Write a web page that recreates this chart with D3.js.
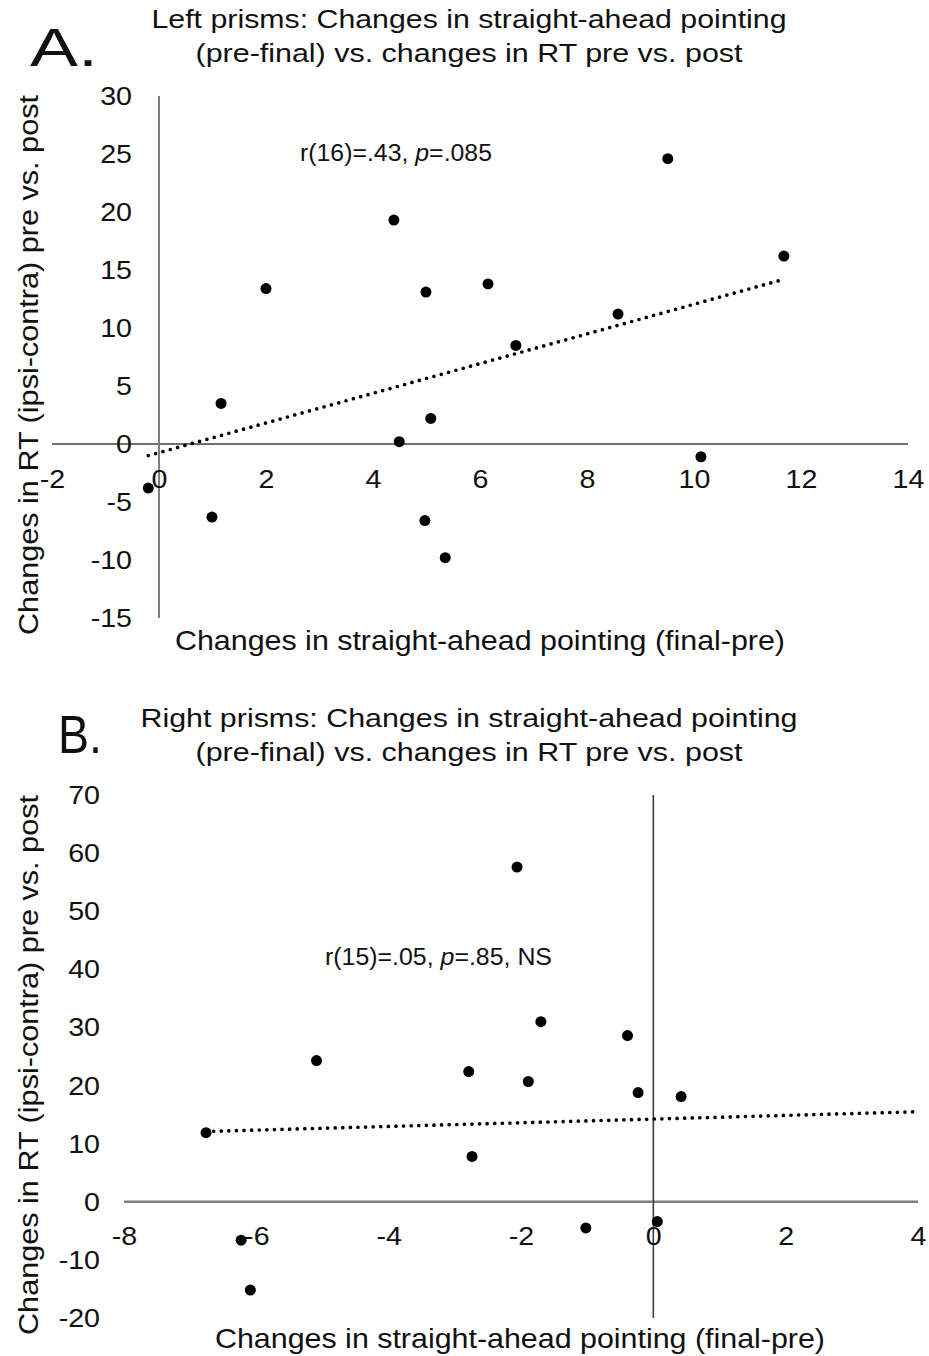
<!DOCTYPE html>
<html>
<head>
<meta charset="utf-8">
<script src="https://cdn.jsdelivr.net/npm/d3@7"></script>
<style>
body{margin:0;background:#fff;}
svg{font-family:"Liberation Sans",Arial,sans-serif;}
</style>
</head>
<body>
<svg id="chart"></svg>
<script>
// panel A: left prisms
var leftX = [-0.2, 0.99, 1.16, 2.0, 4.39, 4.49, 4.99, 4.97, 5.08, 5.35, 6.15, 6.67, 8.58, 9.51, 10.13, 11.68];
var leftY = [-3.8, -6.3, 3.5, 13.4, 19.3, 0.2, 13.1, -6.6, 2.2, -9.8, 13.8, 8.5, 11.2, 24.6, -1.1, 16.2];
var leftTrendX = [-0.2, 11.68];
var leftTrendY = [-1.0, 14.2];
var leftTicksX = [-2, 0, 2, 4, 6, 8, 10, 12, 14];
var leftTicksY = [-15, -10, -5, 0, 5, 10, 15, 20, 25, 30];

// panel B: right prisms
var rightX = [-6.76, -6.23, -6.09, -5.09, -2.79, -2.74, -2.06, -1.89, -1.70, -1.02, -0.39, -0.23, 0.06, 0.42];
var rightY = [11.9, -6.6, -15.2, 24.3, 22.4, 7.8, 57.6, 20.7, 31.0, -4.5, 28.6, 18.8, -3.4, 18.1];
var rightTrendX = [-6.76, 4];
var rightTrendY = [12.1, 15.5];
var rightTicksX = [-8, -6, -4, -2, 0, 2, 4];
var rightTicksY = [-20, -10, 0, 10, 20, 30, 40, 50, 60, 70];

var yTitle = "Changes in RT (ipsi-contra) pre vs. post";
var xTitle = "Changes in straight-ahead pointing (final-pre)";

var svg = d3.select("#chart")
    .attr("width", 929)
    .attr("height", 1356);

var zip = function(xs, ys)
{
    return xs.map(function(x, i){ return {x:x, y:ys[i]}; });
}

var drawPanel = function(p)
{
    var xScale = d3.scaleLinear().domain(p.xDomain).range(p.xRange);
    var yScale = d3.scaleLinear().domain(p.yDomain).range(p.yRange);
    var g = svg.append("g");

    // axis lines through zero
    g.append("line")
    .attr("x1", xScale(p.xDomain[0])).attr("x2", xScale(p.xDomain[1]))
    .attr("y1", yScale(0)).attr("y2", yScale(0))
    .attr("stroke", p.hColor).attr("stroke-width", p.hWidth);
    g.append("line")
    .attr("x1", xScale(0)).attr("x2", xScale(0))
    .attr("y1", yScale(p.yDomain[0])).attr("y2", yScale(p.yDomain[1]))
    .attr("stroke", p.vColor).attr("stroke-width", p.vWidth);

    var fmt = function(d){ return String(d); };

    var xAxis = g.append("g")
    .attr("transform", "translate(0," + p.xLabelTop + ")")
    .call(d3.axisBottom(xScale).tickValues(p.ticksX).tickSize(0).tickPadding(0).tickFormat(fmt));
    var yAxis = g.append("g")
    .attr("transform", "translate(" + p.yLabelRight + ",0)")
    .call(d3.axisLeft(yScale).tickValues(p.ticksY).tickSize(0).tickPadding(0).tickFormat(fmt));
    [xAxis, yAxis].forEach(function(a)
    {
        a.select(".domain").remove();
        a.selectAll("text")
        .attr("font-size", 26.5)
        .attr("font-family", "Liberation Sans, Arial, sans-serif")
        .attr("fill", "#111")
        .attr("transform", "scale(1.08,1)");
    });

    // trendline
    var line = d3.line()
    .x(function(d){ return xScale(d.x); })
    .y(function(d){ return yScale(d.y); });
    g.append("path")
    .datum(zip(p.trendX, p.trendY))
    .attr("d", line)
    .attr("fill", "none")
    .attr("stroke", "#000")
    .attr("stroke-width", 3.7)
    .attr("stroke-linecap", "round")
    .attr("stroke-dasharray", "0 7.6");

    g.selectAll("circle")
    .data(zip(p.xs, p.ys))
    .enter()
    .append("circle")
    .attr("cx", function(d){ return xScale(d.x); })
    .attr("cy", function(d){ return yScale(d.y); })
    .attr("r", 5.5)
    .attr("fill", "#000");

    // titles
    var title = g.append("text")
    .attr("text-anchor", "middle")
    .attr("font-size", 26)
    .attr("fill", "#111");
    title.append("tspan")
    .attr("x", 469).attr("y", p.titleY)
    .attr("textLength", p.titleLen[0]).attr("lengthAdjust", "spacingAndGlyphs")
    .text(p.title[0]);
    title.append("tspan")
    .attr("x", 469).attr("y", p.titleY + 34)
    .attr("textLength", p.titleLen[1]).attr("lengthAdjust", "spacingAndGlyphs")
    .text(p.title[1]);

    g.append("text")
    .attr("x", p.letterX).attr("y", p.letterY)
    .attr("font-size", 54)
    .attr("textLength", p.letterLen).attr("lengthAdjust", "spacingAndGlyphs")
    .attr("fill", "#111")
    .text(p.letter);

    g.append("text")
    .attr("x", p.xTitleX).attr("y", p.xTitleY)
    .attr("text-anchor", "middle")
    .attr("font-size", 27.5)
    .attr("textLength", 610).attr("lengthAdjust", "spacingAndGlyphs")
    .attr("fill", "#111")
    .text(xTitle);

    g.append("text")
    .attr("transform", "translate(38," + p.yTitleY + ") rotate(-90)")
    .attr("text-anchor", "middle")
    .attr("font-size", 27.5)
    .attr("textLength", 540).attr("lengthAdjust", "spacingAndGlyphs")
    .attr("fill", "#111")
    .text(yTitle);

    var note = g.append("text")
    .attr("x", p.noteX).attr("y", p.noteY)
    .attr("font-size", 23.5)
    .attr("textLength", p.noteLen).attr("lengthAdjust", "spacingAndGlyphs")
    .attr("fill", "#111");
    note.append("tspan").text(p.note[0]);
    note.append("tspan").attr("font-style", "italic").text("p");
    note.append("tspan").text(p.note[1]);
}

drawPanel({
    xs:leftX, ys:leftY, trendX:leftTrendX, trendY:leftTrendY,
    ticksX:leftTicksX, ticksY:leftTicksY,
    xDomain:[-2,14], xRange:[52,908], yDomain:[-15,30], yRange:[618,96],
    hColor:"#404040", hWidth:1.6, vColor:"#7f7f7f", vWidth:2,
    xLabelTop:469, yLabelRight:132,
    title:["Left prisms: Changes in straight-ahead pointing", "(pre-final) vs. changes in RT pre vs. post"],
    titleY:28, titleLen:[635,547],
    letter:"A.", letterX:30, letterY:66, letterLen:68,
    xTitleX:480, xTitleY:650, yTitleY:365,
    note:["r(16)=.43, ", "=.085"], noteX:300, noteY:161, noteLen:192
});

drawPanel({
    xs:rightX, ys:rightY, trendX:rightTrendX, trendY:rightTrendY,
    ticksX:rightTicksX, ticksY:rightTicksY,
    xDomain:[-8,4], xRange:[124,918], yDomain:[-20,70], yRange:[1318,795],
    hColor:"#7f7f7f", hWidth:2.4, vColor:"#404040", vWidth:1.6,
    xLabelTop:1226, yLabelRight:100,
    title:["Right prisms: Changes in straight-ahead pointing", "(pre-final) vs. changes in RT pre vs. post"],
    titleY:727, titleLen:[657,547],
    letter:"B.", letterX:58, letterY:753, letterLen:44,
    xTitleX:520, xTitleY:1348, yTitleY:1065,
    note:["r(15)=.05, ", "=.85, NS"], noteX:325, noteY:965, noteLen:227
});
</script>
</body>
</html>
